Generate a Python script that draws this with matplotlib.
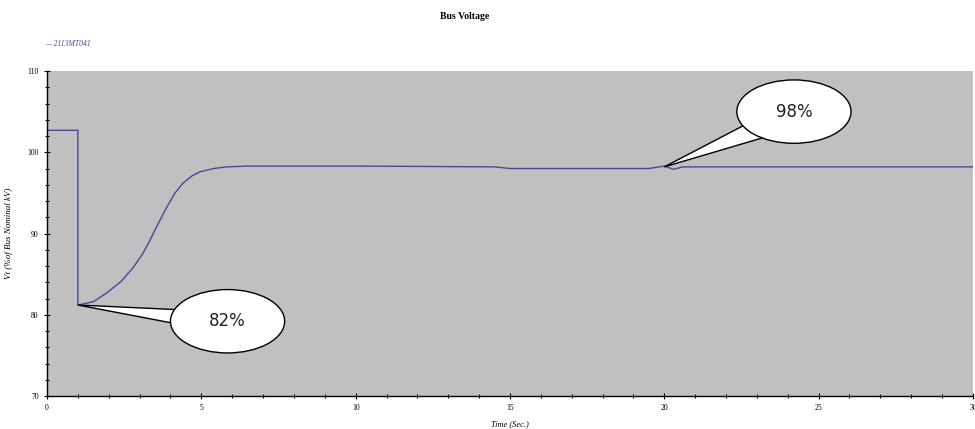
import matplotlib.pyplot as plt
from matplotlib.patches import Ellipse, Polygon
from matplotlib.ticker import MultipleLocator

plt.rcParams['font.family'] = ['Liberation Serif', 'DejaVu Serif']

# bus voltage trace
time_s = [0.0, 1.0, 1.0, 1.5, 1.94, 2.4, 2.79, 3.1, 3.34, 3.6, 3.89, 4.15,
          4.41, 4.7, 4.96, 5.4, 5.83, 6.5, 10.0, 14.5, 15.0, 19.5, 20.0,
          20.3, 20.6, 30.0]
voltage = [102.7, 102.7, 81.2, 81.6, 82.7, 84.1, 85.8, 87.5, 89.2, 91.2,
           93.3, 95.0, 96.2, 97.1, 97.6, 98.0, 98.2, 98.3, 98.3, 98.2,
           98.0, 98.0, 98.3, 97.9, 98.2, 98.2]
series_name = "2113MT041"

# callouts: label, point on curve, centre of bubble
callouts = [("82%", (1.0, 81.2), (5.85, 79.2)),
            ("98%", (20.0, 98.2), (24.2, 105.0))]

fig = plt.figure(figsize=(9.75, 4.29), dpi=100)
ax = fig.add_axes([0.0482, 0.0769, 0.9497, 0.7576])
ax.set_facecolor('#c0c0c0')
ax.plot(time_s, voltage, color='#46469a', lw=1.0)

ax.set_xlim(0, 30)
ax.set_ylim(70, 110)
ax.xaxis.set_major_locator(MultipleLocator(5))
ax.xaxis.set_minor_locator(MultipleLocator(1))
ax.yaxis.set_major_locator(MultipleLocator(10))
ax.yaxis.set_minor_locator(MultipleLocator(2))
ax.tick_params(which='both', direction='inout', labelsize=5.5, width=0.8)
ax.tick_params(which='major', length=5)
ax.tick_params(which='minor', length=3)
for s in ['top', 'right']:
    ax.spines[s].set_visible(False)
for s in ['left', 'bottom']:
    ax.spines[s].set_linewidth(1.0)

ax.set_xlabel("Time (Sec.)", fontsize=6, style='italic', labelpad=6)
ax.set_ylabel("Vt (%of Bus Nominal kV)", fontsize=6.5, style='italic', labelpad=10)
fig.text(0.477, 0.962, "Bus Voltage", fontsize=7, weight='bold', ha='center', va='center')
fig.text(0.046, 0.898, "\u2014 " + series_name, fontsize=5.5, style='italic',
         color='#46469a', ha='left', va='center')

for label, (px, py), (cx, cy) in callouts:
    w, h = 3.7, 7.8
    if label == "82%":
        base1 = (cx - w * 0.40, cy + h * 0.18)
        base2 = (cx - w * 0.42, cy - h * 0.05)
    else:
        base1 = (cx - w * 0.42, cy - h * 0.20)
        base2 = (cx - w * 0.25, cy - h * 0.40)
    tail = Polygon([(px, py), base1, base2], closed=True, facecolor='white',
                   edgecolor='black', lw=1.0, zorder=4)
    ax.add_patch(tail)
    bubble = Ellipse((cx, cy), w, h, facecolor='white', edgecolor='black',
                     lw=1.0, zorder=5)
    ax.add_patch(bubble)
    ax.text(cx, cy, label, fontsize=12, family='DejaVu Sans', ha='center',
            va='center', zorder=6, color='#222222')

fig.savefig('out.png', dpi=100)
